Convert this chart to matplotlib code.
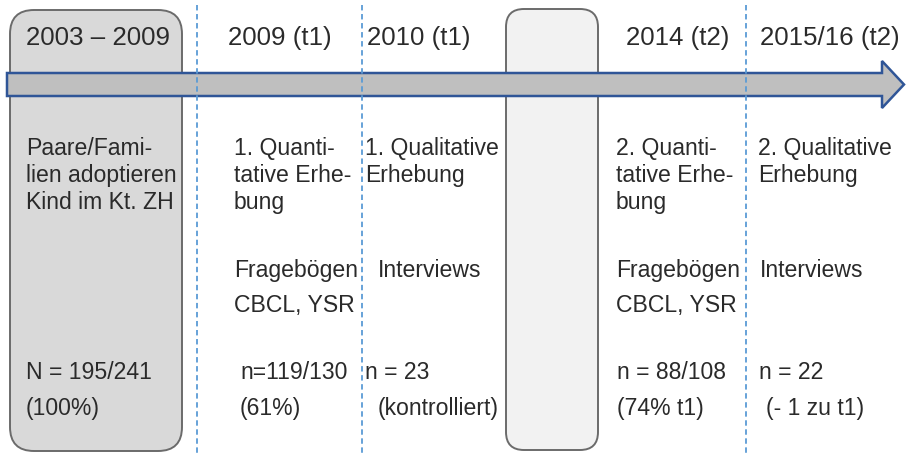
import matplotlib
matplotlib.use("Agg")
import matplotlib.pyplot as plt
from matplotlib.patches import FancyBboxPatch, Polygon

plt.rcParams['font.family'] = ['Liberation Sans', 'DejaVu Sans']

# --- content ---
titles = ["2003 \u2013 2009", "2009 (t1)", "2010 (t1)", "2014 (t2)", "2015/16 (t2)"]
title_x = [26, 228, 367, 626, 760]

headers = [
    ["Paare/Fami-", "lien adoptieren", "Kind im Kt. ZH"],
    ["1. Quanti-", "tative Erhe-", "bung"],
    ["1. Qualitative", "Erhebung"],
    ["2. Quanti-", "tative Erhe-", "bung"],
    ["2. Qualitative", "Erhebung"],
]
header_x = [26, 234, 365, 616, 758]

methods = [
    [],
    ["Fragebögen", "CBCL, YSR"],
    ["Interviews"],
    ["Fragebögen", "CBCL, YSR"],
    ["Interviews"],
]
method_x = [[], [234, 234], [378], [616, 616], [760]]

samples = ["N = 195/241", "n=119/130", "n = 23", "n = 88/108", "n = 22"]
sample_x = [26, 240, 365, 617, 759]
notes = ["(100%)", "(61%)", "(kontrolliert)", "(74% t1)", "(- 1 zu t1)"]
note_x = [26, 240, 378, 617, 766]

divider_x = [197, 362, 746]

# --- figure ---
W, H = 906, 454
fig = plt.figure(figsize=(W / 100, H / 100), dpi=100)
ax = fig.add_axes([0, 0, 1, 1])
ax.set_xlim(0, W)
ax.set_ylim(H, 0)
ax.axis('off')

# rounded boxes
ax.add_patch(FancyBboxPatch((10, 10), 172, 441,
                            boxstyle="round,pad=0,rounding_size=24",
                            fc="#d9d9d9", ec="#6b6b6b", lw=1.4, zorder=1))
ax.add_patch(FancyBboxPatch((506, 9), 92, 441,
                            boxstyle="round,pad=0,rounding_size=18",
                            fc="#f2f2f2", ec="#6b6b6b", lw=1.4, zorder=1))

# timeline arrow
arrow = [(7, 73), (882, 73), (882, 61), (904, 84.5), (882, 108),
         (882, 96), (7, 96)]
ax.add_patch(Polygon(arrow, closed=True, fc="#bfbfbf", ec="#2f5597",
                     lw=1.8, joinstyle='miter', zorder=2))

# dashed dividers
for x in divider_x:
    ax.plot([x, x], [5, H], color="#5b9bd5", lw=1.3,
            dashes=(3, 2), zorder=3)

txt_color = "#2a2a2a"
fs_title = 18.6
fs_body = 16.6

for t, x in zip(titles, title_x):
    ax.text(x, 45, t, fontsize=fs_title, color=txt_color, va='baseline',
            ha='left', zorder=4)

for lines, x in zip(headers, header_x):
    for i, ln in enumerate(lines):
        ax.text(x, 155 + 27 * i, ln, fontsize=fs_body, color=txt_color,
                va='baseline', ha='left', zorder=4)

for lines, xs in zip(methods, method_x):
    for i, (ln, x) in enumerate(zip(lines, xs)):
        ax.text(x, 277 + 35 * i, ln, fontsize=fs_body, color=txt_color,
                va='baseline', ha='left', zorder=4)

for s, x in zip(samples, sample_x):
    ax.text(x, 379, s, fontsize=fs_body, color=txt_color, va='baseline',
            ha='left', zorder=4)
for s, x in zip(notes, note_x):
    ax.text(x, 415, s, fontsize=fs_body, color=txt_color, va='baseline',
            ha='left', zorder=4)

fig.savefig("out.png", dpi=100, facecolor="white")
